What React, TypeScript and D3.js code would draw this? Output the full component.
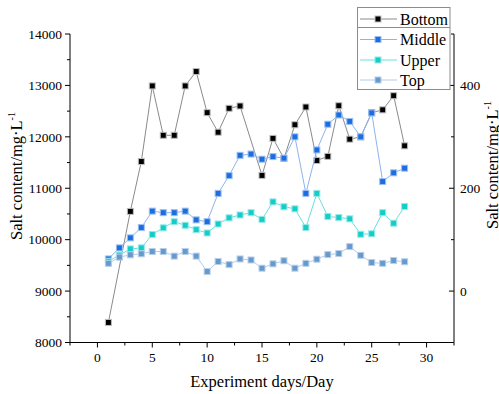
import React from "react";
import * as d3 from "d3";

// experiment days and salt content (mg/L) per layer
const days = [1, 2, 3, 4, 5, 6, 7, 8, 9, 10, 11, 12, 13, 14, 15, 16, 17, 18, 19, 20, 21, 22, 23, 24, 25, 26, 27, 28];
const bottom: (number | null)[] = [8390, null, 10550, 11520, 12990, 12030, 12030, 12990, 13270, 12470, 12090, 12555, 12600, null, 11250, 11970, 11580, 12235, 12580, 11540, 11620, 12605, 11955, 12000, 12470, 12525, 12800, 11825];
const middle = [9625, 9840, 10035, 10235, 10555, 10525, 10525, 10555, 10385, 10350, 10900, 11245, 11640, 11665, 11565, 11615, 11585, 12000, 10900, 11745, 12245, 12425, 12300, 12000, 12465, 11130, 11300, 11390];
const upper = [9580, 9700, 9820, 9840, 10100, 10230, 10350, 10280, 10195, 10130, 10305, 10425, 10480, 10525, 10395, 10735, 10640, 10600, 10235, 10900, 10450, 10430, 10405, 10105, 10115, 10525, 10320, 10645];
const topLayer = [9540, 9660, 9705, 9725, 9770, 9770, 9680, 9770, 9680, 9380, 9575, 9515, 9625, 9605, 9445, 9530, 9590, 9445, 9540, 9620, 9710, 9730, 9865, 9695, 9555, 9540, 9595, 9570];

const xTicks = [0, 5, 10, 15, 20, 25, 30];
const yTicks = [8000, 9000, 10000, 11000, 12000, 13000, 14000];
const yRightTicks = [0, 200, 400];

const series = [
  { name: "Bottom", values: bottom, fill: "#000000", stroke: "#bdbdbd", line: "#8a8a8a" },
  { name: "Middle", values: middle, fill: "#1c6ee0", stroke: "#9cc0f2", line: "#8cb4ee" },
  { name: "Upper", values: upper, fill: "#12cdc8", stroke: "#9ae8e6", line: "#66e0e0" },
  { name: "Top", values: topLayer, fill: "#6699cc", stroke: "#b8d0ea", line: "#b4cce8" },
];

const W = 499;
const H = 394;
const font = "'Liberation Serif', 'Times New Roman', serif";

const App: React.FC = () => {
  const x = d3.scaleLinear().domain([-2.5, 32.5]).range([70, 454]);
  const y = d3.scaleLinear().domain([8000, 14000]).range([342.5, 34]);
  const yR = d3.scaleLinear().domain([-100, 500]).range([342.5, 34]);

  const xMinor = d3.range(-2.5, 33, 2.5).filter((v) => !xTicks.includes(v));
  const yMinor = d3.range(8500, 14000, 1000);
  const yRMinor = [-100, 100, 300, 500];

  const line = d3
    .line<[number, number]>()
    .x((d) => x(d[0]))
    .y((d) => y(d[1]));

  const ms = 6;
  const legendY = [19, 39.5, 60, 80];

  return (
    <svg width={W} height={H} style={{ position: "absolute", left: 0, top: 0, background: "#fff" }} fontFamily={font}>
      {/* series lines + markers */}
      {series.map((s) => {
        const pts = days
          .map((d, i) => [d, s.values[i]] as [number, number | null])
          .filter((p) => p[1] !== null) as [number, number][];
        return (
          <g key={s.name}>
            <path d={line(pts) || ""} fill="none" stroke={s.line} strokeWidth={1} />
            {pts.map((p) => (
              <rect
                key={p[0]}
                x={x(p[0]) - ms / 2}
                y={y(p[1]) - ms / 2}
                width={ms}
                height={ms}
                fill={s.fill}
                stroke={s.stroke}
                strokeWidth={1}
              />
            ))}
          </g>
        );
      })}

      {/* left axis */}
      <line x1={70} x2={70} y1={34} y2={342.5} stroke="#000" strokeWidth={1} />
      {yTicks.map((t) => (
        <g key={t}>
          <line x1={65} x2={70} y1={y(t)} y2={y(t)} stroke="#000" />
          <text x={62} y={y(t)} dy="0.35em" textAnchor="end" fontSize={13.5}>
            {t}
          </text>
        </g>
      ))}
      {yMinor.map((t) => (
        <line key={t} x1={67} x2={70} y1={y(t)} y2={y(t)} stroke="#000" />
      ))}

      {/* bottom axis */}
      <line x1={70} x2={454} y1={342.5} y2={342.5} stroke="#000" strokeWidth={1} />
      {xTicks.map((t) => (
        <g key={t}>
          <line x1={x(t)} x2={x(t)} y1={342.5} y2={347.5} stroke="#000" />
          <text x={x(t)} y={361.5} textAnchor="middle" fontSize={13.5}>
            {t}
          </text>
        </g>
      ))}
      {xMinor.map((t) => (
        <line key={t} x1={x(t)} x2={x(t)} y1={342.5} y2={345.5} stroke="#000" />
      ))}

      {/* right axis */}
      <line x1={454} x2={454} y1={34} y2={342.5} stroke="#000" strokeWidth={1} />
      {yRightTicks.map((t) => (
        <g key={t}>
          <line x1={449} x2={454} y1={yR(t)} y2={yR(t)} stroke="#000" />
          <text x={460} y={yR(t)} dy="0.35em" textAnchor="start" fontSize={13.5}>
            {t}
          </text>
        </g>
      ))}
      {yRMinor.map((t) => (
        <line key={t} x1={451} x2={454} y1={yR(t)} y2={yR(t)} stroke="#000" />
      ))}

      {/* axis titles */}
      <text x={262} y={387} textAnchor="middle" fontSize={16.5}>
        Experiment days/Day
      </text>
      <text transform="translate(21.5,176) rotate(-90)" textAnchor="middle" fontSize={16.5}>
        Salt content/mg·L<tspan fontSize={10} dy={-7}>-1</tspan>
      </text>
      <text transform="translate(498,165) rotate(-90)" textAnchor="middle" fontSize={16.5}>
        Salt content/mg·L<tspan fontSize={10} dy={-7}>-1</tspan>
      </text>

      {/* legend */}
      <rect x={357.5} y={7.5} width={92.5} height={82} fill="#fff" stroke="#8c8c8c" strokeWidth={1} />
      <line x1={357.5} x2={450} y1={27.5} y2={27.5} stroke="#8c8c8c" />
      {series.map((s, i) => (
        <g key={s.name}>
          <line x1={360} x2={397} y1={legendY[i]} y2={legendY[i]} stroke={s.line} strokeWidth={1} />
          <rect x={378 - ms / 2} y={legendY[i] - ms / 2} width={ms} height={ms} fill={s.fill} stroke={s.stroke} />
          <text x={400} y={legendY[i]} dy="0.35em" fontSize={16}>
            {s.name}
          </text>
        </g>
      ))}
    </svg>
  );
};

export default App;
